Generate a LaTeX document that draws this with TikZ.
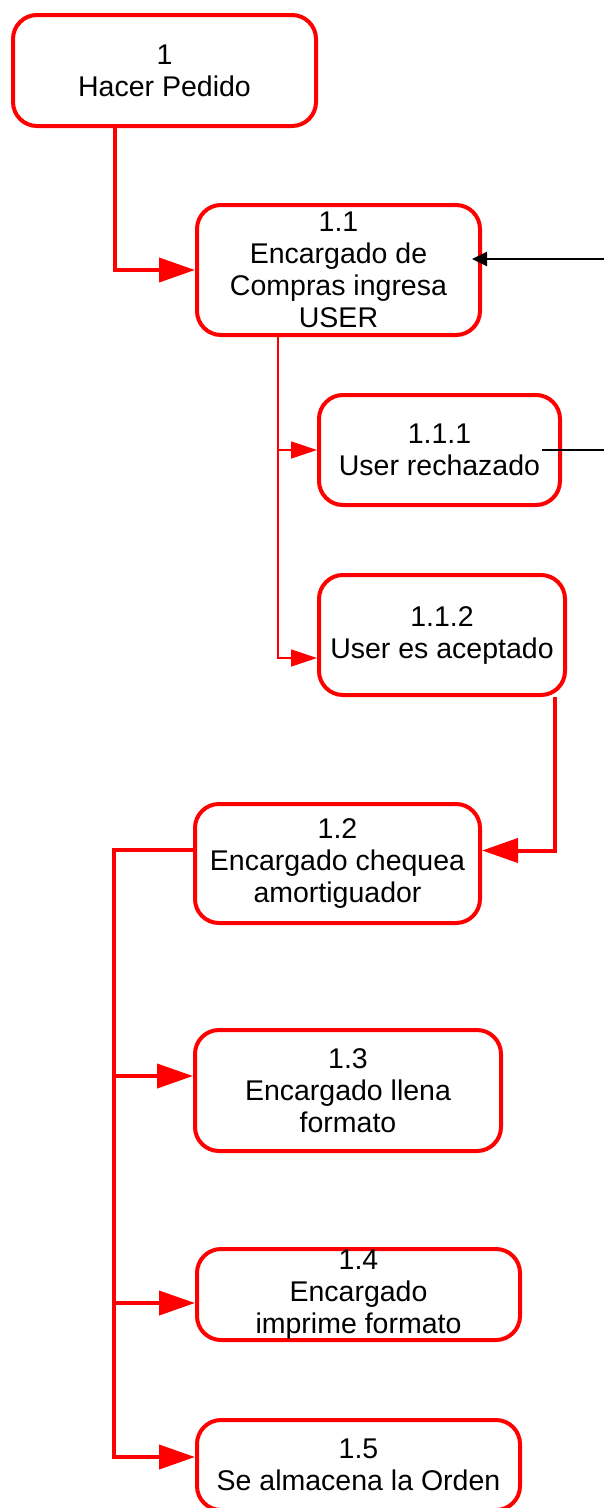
\documentclass[tikz,border=0pt]{standalone}
\usepackage{fontspec}
\setmainfont{Liberation Sans}
\usetikzlibrary{arrows.meta}
\definecolor{flowred}{RGB}{255,0,0}
\tikzset{
  procbox/.style={draw=flowred, line width=4pt, rounded corners=24pt, fill=white,
    align=center, inner sep=0pt, font=\fontsize{28.5}{32}\selectfont},
  flow/.style={draw=flowred, line width=4pt},
  flowarrow/.style={flow, -{Triangle[length=36pt,width=24pt]}},
  subflow/.style={draw=flowred, line width=1.5pt},
  subarrow/.style={subflow, -{Triangle[length=26pt,width=17pt]}},
  ext/.style={draw=black, line width=2pt},
  extarrow/.style={ext, -{Triangle[length=15pt,width=14pt]}},
}
\begin{document}
\begin{tikzpicture}[x=1pt, y=-1pt]
\useasboundingbox (0,0) rectangle (604,1508);
\clip (0,0) rectangle (604,1508);

% process boxes
\node[procbox, minimum width=303pt, minimum height=111pt] (b1)   at (164.5,70.5)  {1\\Hacer Pedido};
\node[procbox, minimum width=283pt, minimum height=130pt] (b11)  at (338.5,270)   {1.1\\Encargado de\\Compras ingresa\\USER};
\node[procbox, minimum width=241pt, minimum height=110pt] (b111) at (439.5,450)   {1.1.1\\User rechazado};
\node[procbox, minimum width=246pt, minimum height=120pt] (b112) at (442,635)     {1.1.2\\User es aceptado};
\node[procbox, minimum width=285pt, minimum height=119pt] (b12)  at (337.5,863.5) {1.2\\Encargado chequea\\amortiguador};
\node[procbox, minimum width=306pt, minimum height=121pt] (b13)  at (348,1090.5)  {1.3\\Encargado llena\\formato};
\node[procbox, minimum width=323pt, minimum height=91pt]  (b14)  at (358.5,1294.5){1.4\\Encargado\\imprime formato};
\node[procbox, minimum width=323pt, minimum height=90pt]  (b15)  at (358.5,1465)  {1.5\\Se almacena la Orden};

% routing columns
\coordinate (c1) at (115,0);
\coordinate (c2) at (278,0);
\coordinate (c3) at (555,0);
\coordinate (t5) at (114,1457);
\coordinate (e1) at (604,259);
\coordinate (e2) at (604,450);

% 1 -> 1.1
\draw[flowarrow] (b1.south -| c1) |- (b11.west);

% 1.1 -> 1.1.1 / 1.1.2
\draw[subarrow] (b11.south -| c2) |- ([yshift=-23pt]b112.west);
\draw[subarrow] (b111.west -| c2) -- (b111.west);

% 1.1.2 -> 1.2
\draw[flowarrow] (b112.south -| c3) |- ([yshift=13pt]b12.east);

% 1.2 -> 1.3, 1.4, 1.5
\draw[flowarrow] ([yshift=14pt]b12.west) -| (t5) -- ([yshift=8pt]b15.west);
\draw[flowarrow] ([yshift=14.5pt]b13.west -| t5) -- ([yshift=14.5pt]b13.west);
\draw[flowarrow] ([yshift=-8.5pt]b14.west -| t5) -- ([yshift=-8.5pt]b14.west);

% external flows
\draw[extarrow, shorten >=-10pt] (e1) -- ([yshift=11pt]b11.east);
\draw[ext] ([xshift=-20pt]b111.east) -- (e2);
\end{tikzpicture}
\end{document}
